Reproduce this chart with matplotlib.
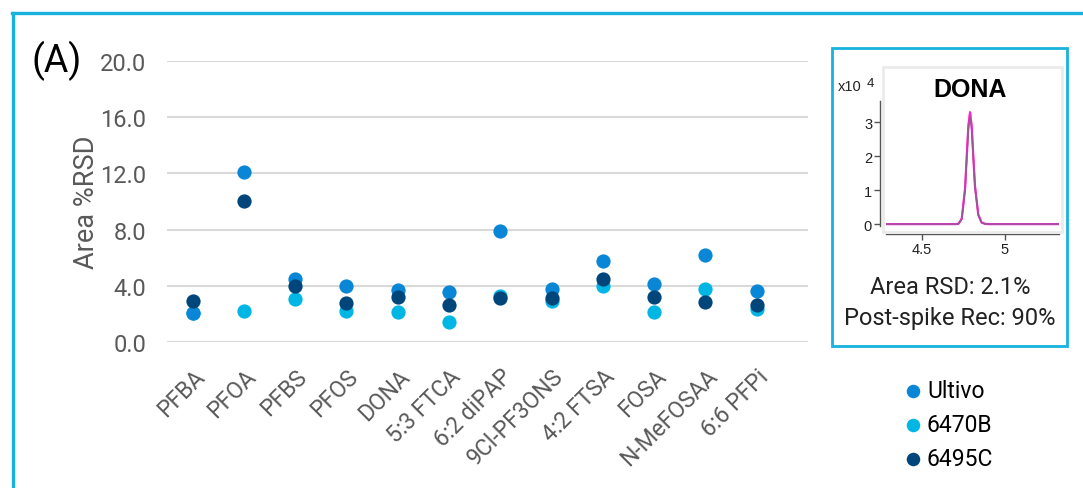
import numpy as np
import matplotlib
matplotlib.use('Agg')
import matplotlib.pyplot as plt
from matplotlib.lines import Line2D
from matplotlib.patches import Rectangle

plt.rcParams['font.family'] = ['Roboto', 'DejaVu Sans']

# compounds and area %RSD per instrument
compounds = ['PFBA', 'PFOA', 'PFBS', 'PFOS', 'DONA', '5:3 FTCA', '6:2 diPAP',
             '9Cl-PF3ONS', '4:2 FTSA', 'FOSA', 'N-MeFOSAA', '6:6 PFPi']
ultivo = [2.04, 12.08, 4.48, 4.01, 3.70, 3.53, 7.88, 3.77, 5.74, 4.13, 6.19, 3.60]
rsd_6470b = [2.05, 2.18, 3.06, 2.18, 2.11, 1.40, 3.30, 2.90, 4.00, 2.11, 3.77, 2.35]
rsd_6495c = [2.90, 10.01, 3.96, 2.75, 3.18, 2.63, 3.15, 3.13, 4.48, 3.22, 2.82, 2.66]

# DONA chromatogram, retention time (min) vs counts (x10^4)
rt = [4.28, 4.70, 4.72, 4.74, 4.76, 4.77, 4.78, 4.79, 4.80, 4.81, 4.82,
      4.84, 4.86, 4.88, 4.90, 5.33]
trace_a = [0.0, 0.0, 0.01, 0.16, 1.05, 1.98, 2.88, 3.28, 2.88, 1.98, 1.12,
           0.28, 0.05, 0.01, 0.0, 0.0]
trace_b = [0.0, 0.0, 0.01, 0.15, 1.00, 1.90, 2.78, 3.15, 2.78, 1.90, 1.06,
           0.26, 0.04, 0.01, 0.0, 0.0]
trace_c = [0.0, 0.0, 0.01, 0.17, 1.08, 2.02, 2.92, 3.31, 2.92, 2.02, 1.14,
           0.29, 0.05, 0.01, 0.0, 0.0]

c_ultivo = '#0a86d6'
c_6470b = '#00b6e4'
c_6495c = '#00467b'
c_frame = '#17b2dd'
c_text = '#595959'

W, H = 1083, 489
fig = plt.figure(figsize=(W / 100, H / 100), dpi=100)

def fx(px):
    return px / W

def fy(py):
    return 1 - py / H

# outer frame (left and top edges)
fig.add_artist(Line2D([fx(13), fx(13)], [0, fy(14)], color=c_frame, lw=2.4))
fig.add_artist(Line2D([fx(12), 1], [fy(14), fy(14)], color=c_frame, lw=2.4))

ax = fig.add_axes([fx(167), fy(343), fx(808) - fx(167), fy(62) - fy(343)])
x = np.arange(len(compounds))
s = 105
ax.scatter(x, rsd_6470b, s=s, color=c_6470b, label='6470B', zorder=3, clip_on=False, lw=0)
ax.scatter(x, ultivo, s=s, color=c_ultivo, label='Ultivo', zorder=4, clip_on=False, lw=0)
ax.scatter(x, rsd_6495c, s=s, color=c_6495c, label='6495C', zorder=5, clip_on=False, lw=0)

ax.set_xlim(-0.5, len(compounds) - 0.0)
ax.set_ylim(0, 20)
ax.set_yticks(np.arange(0, 20.1, 4))
ax.set_yticklabels(['%.1f' % v for v in np.arange(0, 20.1, 4)])
ax.yaxis.grid(True, color='#d9d9d9', lw=1.5)
ax.set_axisbelow(True)
for sp in ax.spines.values():
    sp.set_visible(False)
ax.tick_params(axis='both', length=0, colors=c_text)
ax.tick_params(axis='y', labelsize=17, pad=15)
ax.set_xticks(x)
ax.set_xticklabels(compounds, rotation=45, ha='right', rotation_mode='anchor',
                   fontsize=16.5)
ax.tick_params(axis='x', pad=16)

fig.text(fx(86), fy(202), 'Area %RSD', fontsize=19.5, color=c_text,
         rotation=90, ha='center', va='center')
fig.text(fx(32), fy(61), '(A)', fontsize=27, va='center', ha='left', color='black')

handles, labels = ax.get_legend_handles_labels()
order = [1, 0, 2]
fig.legend([handles[i] for i in order], [labels[i] for i in order],
           loc='upper left', bbox_to_anchor=(fx(904), fy(380)), frameon=False,
           fontsize=16.5, handlelength=0.8, handletextpad=0.2, labelspacing=0.48,
           markerscale=0.95, borderpad=0, borderaxespad=0)

# inset box with DONA chromatogram
fig.add_artist(Rectangle((fx(832), fy(347)), fx(1067) - fx(832), fy(49) - fy(347),
                         transform=fig.transFigure, fill=False, ec=c_frame, lw=2.0))
fig.add_artist(Rectangle((fx(883), fy(233)), fx(1062) - fx(883), fy(68) - fy(233),
                         transform=fig.transFigure, fill=False, ec='#ebebeb', lw=2.0))

ins = fig.add_axes([fx(886), fy(235), fx(1059) - fx(886), fy(102) - fy(235)])
ins.plot(rt, trace_c, color='#f08a30', lw=1.2)
ins.plot(rt, trace_a, color='#ff1ee6', lw=1.6)
ins.plot(rt, trace_b, color='#7a6a7a', lw=1.0, alpha=0.8)
ins.set_xlim(4.28, 5.33)
ins.set_ylim(-0.29, 3.62)
ins.patch.set_alpha(0)
ins.spines['top'].set_visible(False)
ins.spines['right'].set_visible(False)
ins.spines['left'].set_position(('outward', 4))
ins.spines['left'].set_bounds(-0.06, 3.62)
for sp in ('left', 'bottom'):
    ins.spines[sp].set_color('#555555')
    ins.spines[sp].set_linewidth(1.0)
ins.set_yticks([0, 1, 2, 3])
ins.set_xticks([4.5, 5])
ins.set_xticklabels(['4.5', '5'])
ins.tick_params(length=4, width=1, color='#555555', labelsize=10.5,
                labelcolor='#222222', pad=2)
for lab in ins.get_xticklabels() + ins.get_yticklabels():
    lab.set_family(['Liberation Sans', 'DejaVu Sans'])

fig.text(fx(838), fy(87), 'x10', fontsize=10.5, family=['Liberation Sans'],
         va='center', ha='left', color='#222222')
fig.text(fx(867), fy(84), '4', fontsize=9.5, family=['Liberation Sans'],
         va='center', ha='left', color='#222222')
fig.text(fx(970), fy(90), 'DONA', fontsize=18, fontweight='bold',
         family=['Liberation Sans'], va='center', ha='center', color='black')
fig.text(fx(950), fy(288), 'Area RSD: 2.1%', fontsize=17, va='center',
         ha='center', color='#222222')
fig.text(fx(950), fy(318), 'Post-spike Rec: 90%', fontsize=17, va='center',
         ha='center', color='#222222')

fig.savefig('out.png', dpi=100)
